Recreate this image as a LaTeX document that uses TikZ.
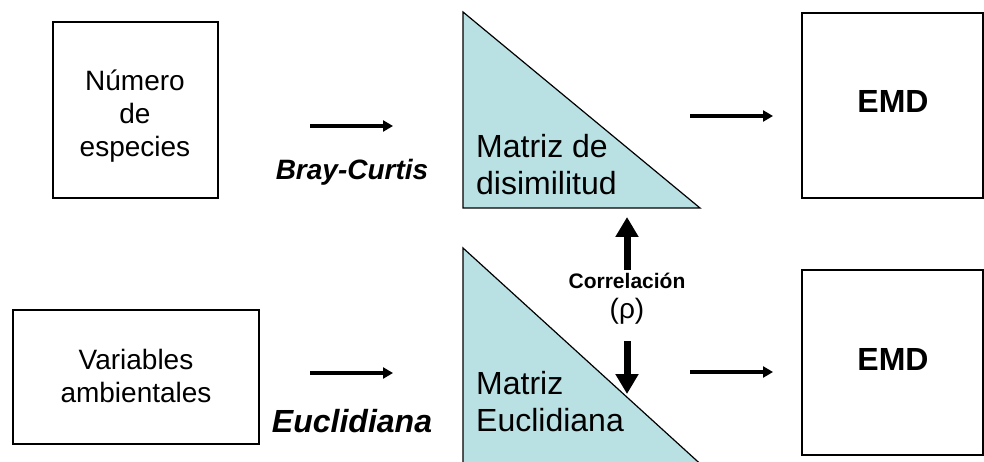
\documentclass[tikz,border=0pt]{standalone}
\usepackage{fontspec}
\setmainfont{Liberation Sans}
\usetikzlibrary{arrows.meta}
\definecolor{tri}{RGB}{185,224,226}
\tikzset{
  box/.style={draw=black,line width=1.5pt,fill=white},
  txt/.style={align=center,inner sep=0pt,font=\fontsize{28}{33}\selectfont},
  mtxt/.style={align=left,inner sep=0pt,anchor=west,font=\fontsize{32}{37}\selectfont},
  emd/.style={inner sep=0pt,font=\fontsize{32}{37}\selectfont\bfseries},
  harrow/.style={line width=3.4pt,-{Triangle[length=10pt,width=11pt]}},
  varrow/.style={line width=7pt,-{Triangle[length=20pt,width=22pt]}},
  trishape/.style={fill=tri,draw=black,line width=1.2pt,line join=miter},
}
\begin{document}
\begin{tikzpicture}[x=1pt,y=-1pt]
\useasboundingbox (0,0) rectangle (984,462);
% boxes
\draw[box] (53,22) rectangle (218,198);
\draw[box] (13,310) rectangle (259,444);
\draw[box] (802,13) rectangle (983,198);
\draw[box] (802,270) rectangle (983,455);
% triangles
\draw[trishape] (463,12) -- (463,208) -- (700,208) -- cycle;
\begin{scope}
\clip (0,0) rectangle (984,462);
\draw[trishape] (463,248) -- (463,480) -- (718,480) -- cycle;
\end{scope}
% texts
\node[txt] (ne) at (135,116) {Número\\de\\especies};
\node[txt] (va) at (136,376) {Variables\\ambientales};
\node[txt,font=\fontsize{28}{33}\selectfont\bfseries\itshape] (bc) at (352,172) {Bray-Curtis};
\node[txt,font=\fontsize{32}{37}\selectfont\bfseries\itshape] (eu) at (352,421) {Euclidiana};
\node[mtxt] (md) at (476,165) {Matriz de\\disimilitud};
\node[mtxt] (me) at (476,402) {Matriz\\Euclidiana};
\node[emd] (e1) at (893,101) {EMD};
\node[emd] (e2) at (893,359) {EMD};
\node[inner sep=0pt,font=\fontsize{21}{25}\selectfont\bfseries] (co) at (627,281) {Correlación};
\node[inner sep=0pt,font=\fontsize{28}{33}\selectfont] (rho) at (627,311) {(ρ)};
% arrow coordinates
\coordinate (a1s) at (310,126); \coordinate (a1e) at (393,126);
\coordinate (a2s) at (310,373); \coordinate (a2e) at (393,373);
\coordinate (a3s) at (690,116); \coordinate (a3e) at (773,116);
\coordinate (a4s) at (690,372); \coordinate (a4e) at (773,372);
\coordinate (u1s) at (627,270); \coordinate (u1e) at (627,217);
\coordinate (d1s) at (627,341); \coordinate (d1e) at (627,394);
\draw[harrow] (a1s) -- (a1e);
\draw[harrow] (a2s) -- (a2e);
\draw[harrow] (a3s) -- (a3e);
\draw[harrow] (a4s) -- (a4e);
\draw[varrow] (u1s) -- (u1e);
\draw[varrow] (d1s) -- (d1e);
\end{tikzpicture}
\end{document}
